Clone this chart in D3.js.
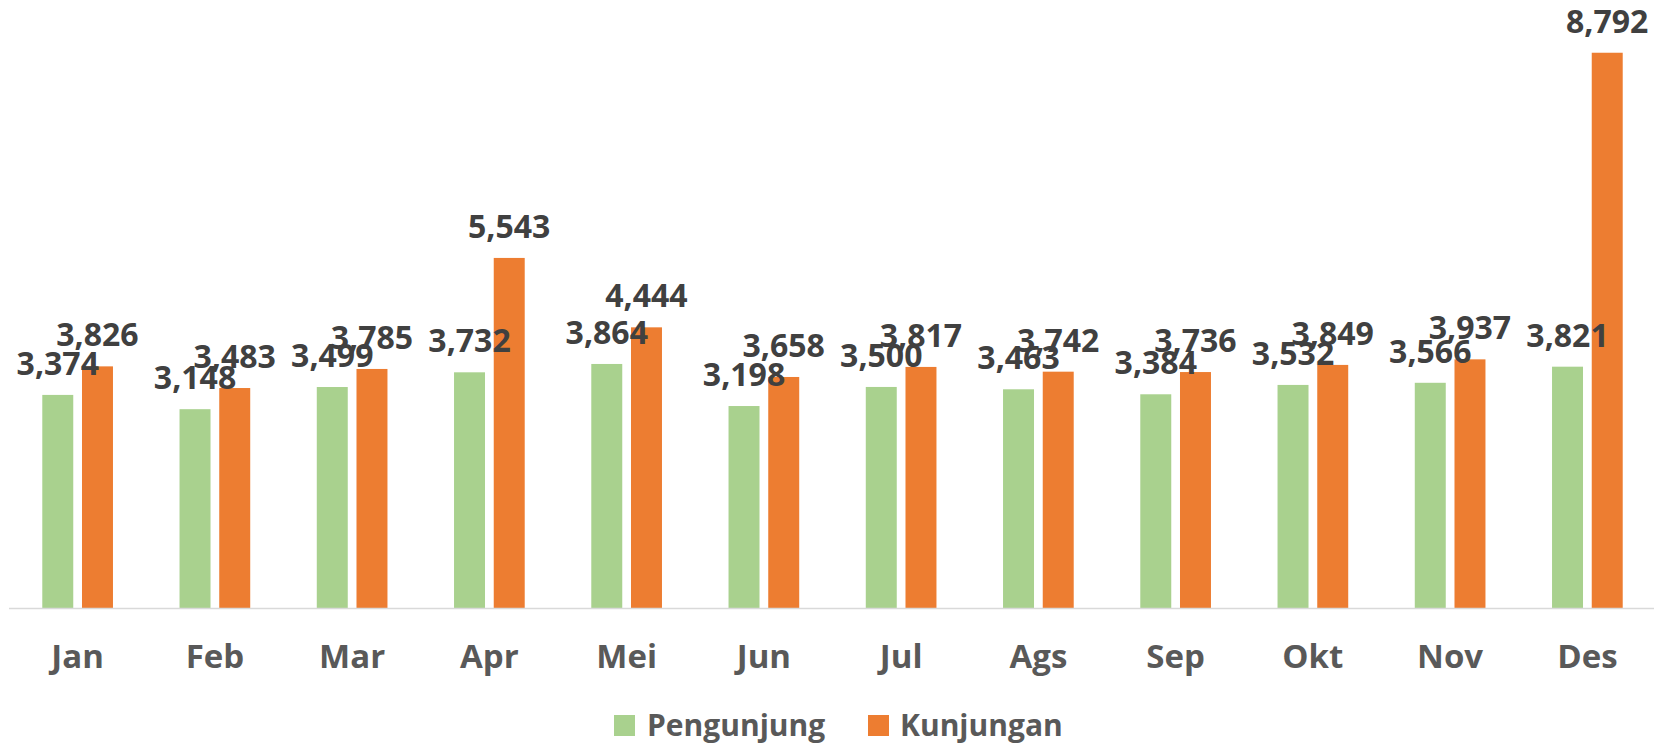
<!DOCTYPE html>
<html>
<head>
<meta charset="utf-8">
<script src="https://cdn.jsdelivr.net/npm/d3@7"></script>
<style>
  html, body { margin: 0; padding: 0; background: #ffffff; }
  svg { display: block; }
  text { font-family: "Open Sans", "DejaVu Sans", sans-serif; font-weight: 700; }
</style>
</head>
<body>
<svg id="chart" width="1654" height="745"></svg>
<script>
const months = ["Jan", "Feb", "Mar", "Apr", "Mei", "Jun", "Jul", "Ags", "Sep", "Okt", "Nov", "Des"];
const seriesNames = ["Pengunjung", "Kunjungan"];
const pengunjung = [3374, 3148, 3499, 3732, 3864, 3198, 3500, 3463, 3384, 3532, 3566, 3821];
const kunjungan = [3826, 3483, 3785, 5543, 4444, 3658, 3817, 3742, 3736, 3849, 3937, 8792];
const colors = ["#A9D18E", "#ED7D31"];

const svg = d3.select("#chart");
const W = 1654, H = 745;
const baseY = 608;

const x0 = d3.scaleBand().domain(months).range([9, 1656]).paddingInner(0).paddingOuter(0);
const bw = x0.bandwidth();
const x1 = d3.scaleBand().domain(seriesNames).range([bw * 0.2425, bw * 0.7575]).paddingInner(0.22);
const y = d3.scaleLinear().domain([0, 9000]).range([baseY, 39.6]);

const data = months.map((m, i) => ({
  month: m,
  values: [
    { key: seriesNames[0], value: pengunjung[i], color: colors[0] },
    { key: seriesNames[1], value: kunjungan[i], color: colors[1] }
  ]
}));

const groups = svg.append("g").selectAll("g.grp")
  .data(data).join("g")
  .attr("class", "grp")
  .attr("transform", d => `translate(${x0(d.month)},0)`);

groups.selectAll("rect")
  .data(d => d.values).join("rect")
  .attr("x", d => x1(d.key))
  .attr("y", d => y(d.value))
  .attr("width", x1.bandwidth())
  .attr("height", d => baseY - y(d.value))
  .attr("fill", d => d.color);

// axis line
svg.append("line")
  .attr("x1", 9).attr("x2", W)
  .attr("y1", baseY + 0.5).attr("y2", baseY + 0.5)
  .attr("stroke", "#D9D9D9").attr("stroke-width", 1.5);

// category labels via d3 axis
const xAxis = d3.axisBottom(x0).tickSize(0).tickPadding(0);
const axG = svg.append("g").attr("transform", `translate(0,${baseY})`).call(xAxis);
axG.select(".domain").remove();
axG.selectAll("text")
  .attr("dy", null)
  .attr("y", 60)
  .attr("fill", "#595959")
  .style("font-size", "33px")
  .style("font-family", "'Open Sans', sans-serif")
  .style("font-weight", "700");

// data labels
const labelFmt = d3.format(",");
const labG = svg.append("g");
data.forEach(d => {
  d.values.forEach(v => {
    labG.append("text")
      .attr("x", x0(d.month) + x1(v.key) + x1.bandwidth() / 2)
      .attr("y", y(v.value) - 20)
      .attr("text-anchor", "middle")
      .attr("fill", "#404040")
      .style("font-size", "32px")
      .text(labelFmt(v.value));
  });
});

// legend
const legendItems = [
  { name: seriesNames[0], color: colors[0], sx: 614, tx: 647 },
  { name: seriesNames[1], color: colors[1], sx: 868, tx: 900 }
];
const lg = svg.append("g");
legendItems.forEach(it => {
  lg.append("rect").attr("x", it.sx).attr("y", 715).attr("width", 21).attr("height", 21).attr("fill", it.color);
  lg.append("text").attr("x", it.tx).attr("y", 735.5).attr("fill", "#595959")
    .style("font-size", "30px").text(it.name);
});
</script>
</body>
</html>
